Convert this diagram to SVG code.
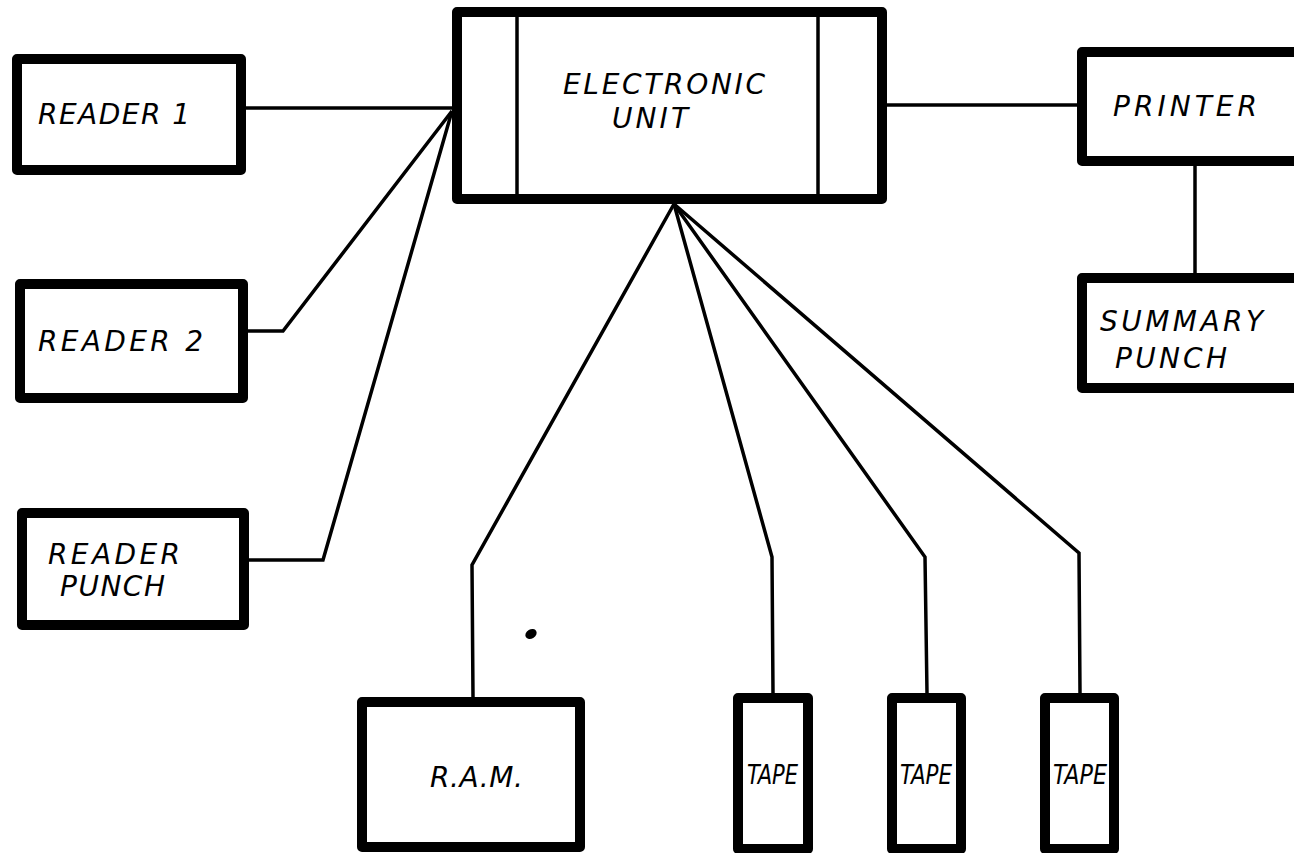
<svg xmlns="http://www.w3.org/2000/svg" width="1294" height="853" viewBox="0 0 1294 853">
<style>
.box{fill:#fff;stroke:#000;stroke-width:10;stroke-linejoin:round}
.div{stroke:#000;stroke-width:3.5;fill:none}
.conn{stroke:#000;stroke-width:3.5;fill:none;stroke-linejoin:miter}
.t{font-family:"DejaVu Sans","Liberation Sans",sans-serif;font-style:italic;font-size:28px;fill:#000}
.tp{font-family:"DejaVu Sans Condensed","Liberation Sans Narrow",sans-serif;font-style:italic;font-size:27px;fill:#000}
</style>
<rect width="1294" height="853" fill="#fff"/>
<g id="connectors">
<polyline class="conn" points="246,108 452,108"/>
<polyline class="conn" points="248,331 283,331 452,111"/>
<polyline class="conn" points="249,560 323,560 452,111"/>
<polyline class="conn" points="887,105 1077,105"/>
<polyline class="conn" points="1195,166 1195,273"/>
<polyline class="conn" points="473,697 472,565 674,204"/>
<polyline class="conn" points="773,693 772,557 674,204"/>
<polyline class="conn" points="927,693 925,557 674,204"/>
<polyline class="conn" points="1080,693 1079,553 674,204"/>
</g>
<g id="reader1">
<rect class="box" x="17" y="59" width="224" height="111"/>
<text class="t" x="38" y="124" textLength="152" lengthAdjust="spacing">READER 1</text>
</g>
<g id="reader2">
<rect class="box" x="20" y="284" width="223" height="114"/>
<text class="t" x="38" y="351" textLength="165" lengthAdjust="spacing">READER 2</text>
</g>
<g id="readerpunch">
<rect class="box" x="22" y="513" width="222" height="112"/>
<text class="t" x="48" y="564" textLength="132" lengthAdjust="spacing">READER</text>
<text class="t" x="60" y="596" textLength="105" lengthAdjust="spacing">PUNCH</text>
</g>
<g id="electronicunit">
<rect class="box" x="457" y="12" width="425" height="187"/>
<line class="div" x1="517" y1="14" x2="517" y2="197"/>
<line class="div" x1="818" y1="14" x2="818" y2="197"/>
<text class="t" x="563" y="94" textLength="202" lengthAdjust="spacing">ELECTRONIC</text>
<text class="t" x="612" y="128" textLength="76" lengthAdjust="spacing">UNIT</text>
</g>
<g id="printer">
<rect class="box" x="1082" y="52" width="250" height="109"/>
<text class="t" x="1113" y="116" textLength="144" lengthAdjust="spacing">PRINTER</text>
</g>
<g id="summarypunch">
<rect class="box" x="1082" y="278" width="250" height="110"/>
<text class="t" x="1100" y="331" textLength="163" lengthAdjust="spacing">SUMMARY</text>
<text class="t" x="1115" y="368" textLength="112" lengthAdjust="spacing">PUNCH</text>
</g>
<g id="ram">
<rect class="box" x="362" y="702" width="218" height="145"/>
<text class="t" x="430" y="787" textLength="93" lengthAdjust="spacing">R.A.M.</text>
</g>
<g id="tape1">
<rect class="box" x="738" y="698" width="70" height="151"/>
<text class="tp" x="747" y="784" textLength="51" lengthAdjust="spacingAndGlyphs">TAPE</text>
</g>
<g id="tape2">
<rect class="box" x="892" y="698" width="69" height="151"/>
<text class="tp" x="900" y="784" textLength="52" lengthAdjust="spacingAndGlyphs">TAPE</text>
</g>
<g id="tape3">
<rect class="box" x="1045" y="698" width="69" height="151"/>
<text class="tp" x="1053" y="784" textLength="54" lengthAdjust="spacingAndGlyphs">TAPE</text>
</g>
<ellipse cx="531" cy="634" rx="6" ry="4.5" transform="rotate(-30 531 634)" fill="#000"/>
</svg>
